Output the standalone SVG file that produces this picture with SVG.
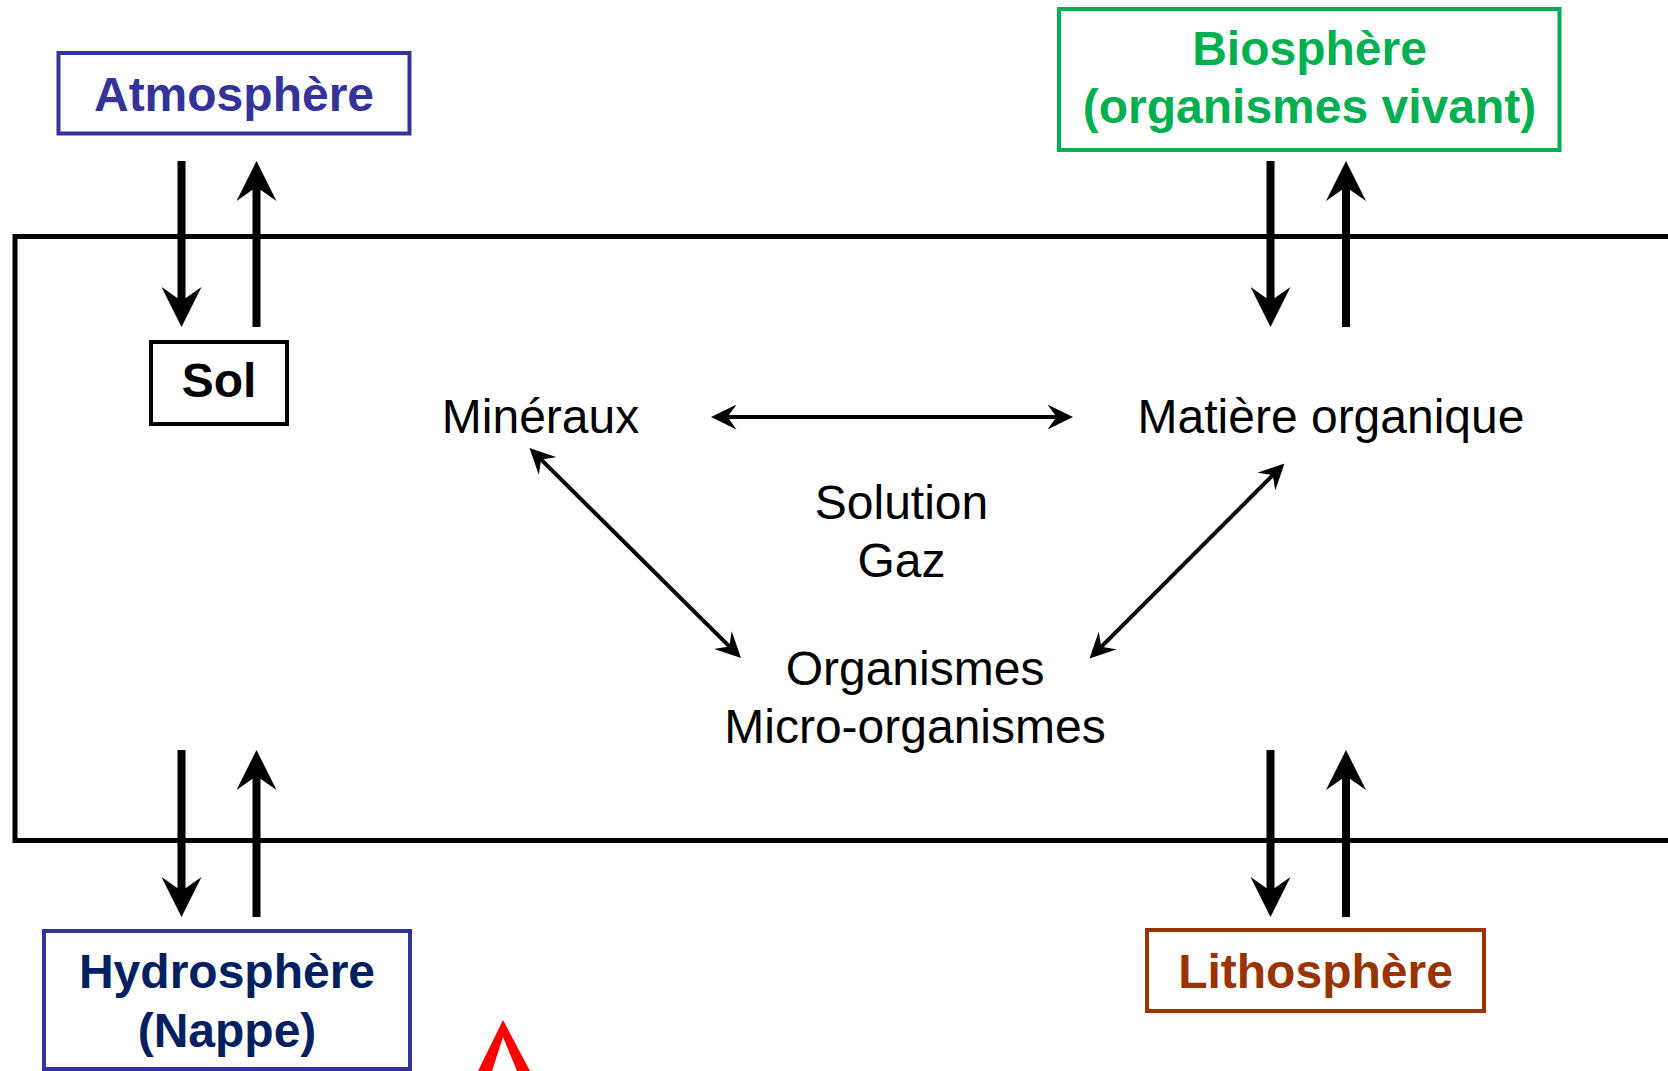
<svg xmlns="http://www.w3.org/2000/svg" width="1668" height="1071" viewBox="0 0 1668 1071">
<style>
  .bold { font-family: "Liberation Sans", Arial, sans-serif; font-weight: bold; font-size: 48px; text-anchor: middle; }
  .reg { font-family: "Liberation Sans", Arial, sans-serif; font-size: 48px; text-anchor: middle; fill: #000; }
  .box { fill: #fff; stroke-width: 4; }
  .thick { stroke: #000; stroke-width: 8; fill: none; marker-end: url(#headBig); }
  .thin { stroke: #000; stroke-width: 4; fill: none; marker-start: url(#headSmall); marker-end: url(#headSmall); }
</style>
<defs>
  <marker id="headBig" viewBox="-14 -20 40 40" refX="0" refY="0" markerWidth="40" markerHeight="40" markerUnits="userSpaceOnUse" orient="auto">
    <path d="M26,0 L-14,-20 L0,0 L-14,20 Z" fill="#000"/>
  </marker>
  <marker id="headSmall" viewBox="-9 -12.5 25.5 25" refX="0" refY="0" markerWidth="25.5" markerHeight="25" markerUnits="userSpaceOnUse" orient="auto-start-reverse">
    <path d="M16.5,0 L-9,-12.5 L0,0 L-9,12.5 Z" fill="#000"/>
  </marker>
</defs>
<rect width="1668" height="1071" fill="#fff"/>

<g id="soil-frame">
  <path d="M1672,236.5 L15,236.5 L15,840.5 L1672,840.5" fill="none" stroke="#000" stroke-width="5"/>
</g>

<g id="connectors">
  <line class="thick" x1="181.5" y1="161" x2="181.5" y2="301"/>
  <line class="thick" x1="256.5" y1="327" x2="256.5" y2="187"/>
  <line class="thick" x1="1270.5" y1="161" x2="1270.5" y2="301"/>
  <line class="thick" x1="1346" y1="327" x2="1346" y2="187"/>
  <line class="thick" x1="181.5" y1="750" x2="181.5" y2="891"/>
  <line class="thick" x1="256.5" y1="917" x2="256.5" y2="776"/>
  <line class="thick" x1="1270.5" y1="750" x2="1270.5" y2="891"/>
  <line class="thick" x1="1346" y1="917" x2="1346" y2="776"/>
  <line class="thin" x1="727.5" y1="417" x2="1056.5" y2="417"/>
  <line class="thin" x1="541.2" y1="459.6" x2="729.3" y2="646.4"/>
  <line class="thin" x1="1101.2" y1="646.8" x2="1272.8" y2="475.2"/>
</g>

<g id="atmosphere">
  <rect class="box" x="58.5" y="53" width="351" height="80.5" stroke="#333399"/>
  <text class="bold" x="234" y="111" fill="#333399">Atmosphère</text>
</g>

<g id="biosphere">
  <rect class="box" x="1059" y="9" width="500.5" height="141" stroke="#00B050"/>
  <text class="bold" x="1309.5" y="65" fill="#00B050">Biosphère</text>
  <text class="bold" x="1309.5" y="122.5" fill="#00B050">(organismes vivant)</text>
</g>

<g id="sol">
  <rect class="box" x="151" y="342" width="136" height="82" stroke="#000"/>
  <text class="bold" x="219" y="397" fill="#000">Sol</text>
</g>

<g id="hydrosphere">
  <rect class="box" x="44" y="931" width="366" height="138" stroke="#333399"/>
  <text class="bold" x="227" y="988" fill="#002060">Hydrosphère</text>
  <text class="bold" x="227" y="1047" fill="#002060">(Nappe)</text>
</g>

<g id="lithosphere">
  <rect class="box" x="1147" y="930" width="337" height="81" stroke="#993300"/>
  <text class="bold" x="1315.5" y="988" fill="#993300">Lithosphère</text>
</g>

<g id="mineraux">
  <text class="reg" x="540.5" y="433">Minéraux</text>
</g>

<g id="matiere-organique">
  <text class="reg" x="1331" y="433">Matière organique</text>
</g>

<g id="solution-gaz">
  <text class="reg" x="901.5" y="519">Solution</text>
  <text class="reg" x="901.5" y="577">Gaz</text>
</g>

<g id="organismes">
  <text class="reg" x="915" y="685">Organismes</text>
  <text class="reg" x="915" y="743">Micro-organismes</text>
</g>

<g id="red-mark">
  <path d="M478,1071 L503,1020 L530,1071 L517,1071 L503,1037 L492,1071 Z" fill="#FF0000"/>
</g>
</svg>
